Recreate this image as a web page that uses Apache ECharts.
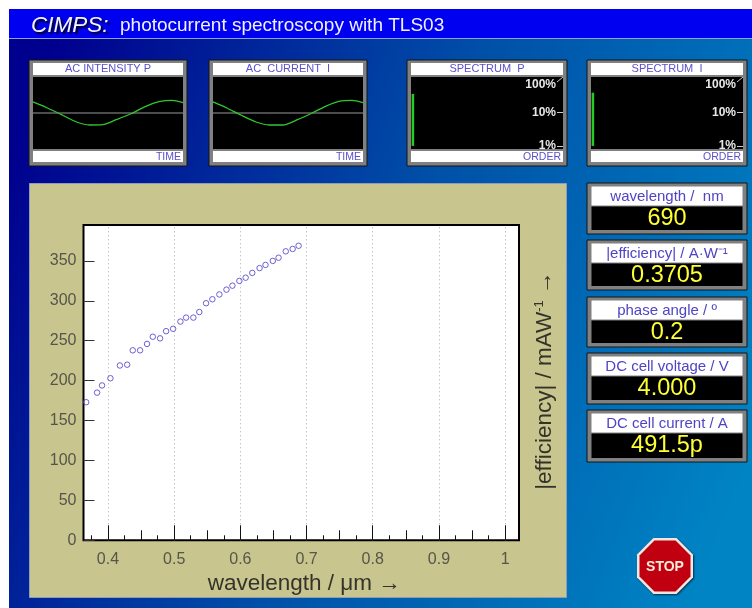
<!DOCTYPE html>
<html><head><meta charset="utf-8">
<style>html,body{margin:0;padding:0;background:#fff}#c{width:752px;height:608px}</style>
<script src="https://cdn.jsdelivr.net/npm/echarts@6/dist/echarts.min.js"></script>
</head><body><div id="c"></div>
<script>
const wavelength=[0.367,0.3835,0.391,0.4037,0.418,0.429,0.4374,0.4485,0.459,0.4677,0.4787,0.4878,0.4984,0.5094,0.518,0.529,0.538,0.5482,0.5577,0.5683,0.579,0.588,0.5985,0.608,0.618,0.629,0.638,0.649,0.6577,0.6686,0.679,0.688];
const efficiency=[173,185,194,203,219,220,238,238,246,255,253,262,265,274,279,279,286,297,302,308,314,319,325,329,335,341,345,350,354,362,365,369];
const majorX=[0.4,0.5,0.6,0.7,0.8,0.9,1];
const midX=[0.45,0.55,0.65,0.75,0.85,0.95];
const minorX=[0.375,0.425,0.475,0.525,0.575,0.625,0.675,0.725,0.775,0.825,0.875,0.925,0.975];
const majorY=[0,50,100,150,200,250,300,350];
const acTimeP=[0,9.2,19,29,37.8,46.6,55.4,65.3,75.2,84,92.7,100];
const acValueP=[.92,.44,-.14,-.75,-1,-.97,-.56,-.06,.56,.94,1.06,.86];
const acTimeI=[0,8.8,18.8,28.7,37.5,46.4,56.3,66.2,75,83.9,92.7,100];
const acValueI=[.92,.44,-.19,-.75,-1,-1,-.56,0,.56,.97,1.06,.86];
const acBaseline=[[0,0],[100,0]];
const orders=Array.from({length:40},(_,i)=>String(i+1));
const spectrumP=[35];
const spectrumI=[38];
const specTicks=[1,10,100];
const readLabels=['wavelength /  nm','|efficiency| / A·W⁻¹','phase angle / º','DC cell voltage / V','DC cell current / A'];
const readValues=['690','0.3705','0.2','4.000','491.5p'];
const panelTitles=['AC INTENSITY P','AC  CURRENT  I','SPECTRUM  P','SPECTRUM  I'];
const panelFoot=['TIME','TIME','ORDER','ORDER'];

const F='"Liberation Sans",Arial,sans-serif';
const W=752,H=608;
const g=[];
const rect=(x,y,w,h,fill,z,extra)=>g.push(Object.assign({type:'rect',shape:{x,y,width:w,height:h},style:{fill},z:z||0,silent:true},extra||{}));
const text=(x,y,t,o)=>g.push({type:'text',x,y,z:5,silent:true,style:Object.assign({text:t,fontFamily:F},o)});

// page
rect(9,9,W-9,H-9,new echarts.graphic.LinearGradient(0,0.25,1,0.75,[{offset:0,color:'#00008e'},{offset:0.5,color:'#0050a8'},{offset:1,color:'#0084c4'}]),0);
rect(9,9,W-9,29,'#0000f0',1);
rect(9,38,W-9,1,'#8f9fe8',1);
text(31,14,'CIMPS:',{fontSize:22.5,fontStyle:'italic',fill:'#f4f4ff',textShadowColor:'#000',textShadowBlur:2,textShadowOffsetX:2,textShadowOffsetY:2});
text(120,16,'photocurrent spectroscopy with TLS03',{fontSize:19,fill:'#f0f0ff'});

// khaki panel
rect(29.5,183.5,537,414,'#c9c58f',1,{style:{fill:'#c9c58f',stroke:'#8f9bb8',lineWidth:1}});

// small panels
const px=[29,209,407,587];
const pw=[158,158,160,160];
const grids=[],xAxes=[],yAxes=[],series=[];
px.forEach((x,i)=>{
  rect(x,60,pw[i],106,'#808080',1,{style:{fill:'#808080',stroke:'#151515',lineWidth:1}});
  rect(x+4,63,pw[i]-8,12,'#fff',2);
  rect(x+4,151,pw[i]-8,11,'#fff',2);
  text(x+pw[i]/2,69,panelTitles[i],{fontSize:11,fill:'#5a50cc',align:'center',verticalAlign:'middle'});
  text(x+pw[i]-6,157,panelFoot[i],{fontSize:10.5,fill:'#5a50cc',align:'right',verticalAlign:'middle'});
  grids.push({left:x+4,top:77,width:pw[i]-8,height:72,show:true,backgroundColor:'#000',borderWidth:0,z:3});
});

// readouts
const ry=[183,240,297,353,410],rh=[51,50,50,51,52];
ry.forEach((y,i)=>{
  rect(587,y,160,rh[i],'#808080',1,{style:{fill:'#808080',stroke:'#151515',lineWidth:1}});
  rect(591.5,y+3.5,151,19,'#fff',2);
  rect(591.5,y+23.5,151,rh[i]-27.5,'#000',2);
  text(667,y+13.5,readLabels[i],{fontSize:15,fill:'#4f44c4',align:'center',verticalAlign:'middle'});
  text(667,y+36,readValues[i],{fontSize:23.5,fill:'#ffff33',align:'center',verticalAlign:'middle'});
});

// spectrum 100% corner ticks
[2,3].forEach(i=>{
  const r=px[i]+pw[i]-4;
  g.push({type:'line',z:6,silent:true,shape:{x1:r-6,y1:82,x2:r,y2:77},style:{stroke:'#ccc',lineWidth:1}});
});

// stop sign
const cx=665,cy=566,r1=28,r2=25.5;
const oct=r=>{const a=r*0.414;return [[cx-a,cy-r],[cx+a,cy-r],[cx+r,cy-a],[cx+r,cy+a],[cx+a,cy+r],[cx-a,cy+r],[cx-r,cy+a],[cx-r,cy-a]];};
g.push({type:'polygon',z:2,silent:true,shape:{points:oct(r1)},style:{fill:'#f2e6e0',shadowColor:'rgba(0,0,0,.6)',shadowBlur:2,shadowOffsetX:1,shadowOffsetY:1}});
g.push({type:'polygon',z:3,silent:true,shape:{points:oct(r2)},style:{fill:'#c00010'}});
text(cx,cy+1,'STOP',{fontSize:14,fontWeight:'bold',fill:'#f6ecd8',align:'center',verticalAlign:'middle'});

// AC traces
[[acTimeP,acValueP],[acTimeI,acValueI]].forEach((d,i)=>{
  xAxes.push({gridIndex:i,type:'value',min:0,max:100,show:false});
  yAxes.push({gridIndex:i,type:'value',min:-3,max:3,show:false});
  series.push({type:'line',xAxisIndex:i,yAxisIndex:i,symbol:'none',z:4,lineStyle:{color:'#9a9a9a',width:1},data:acBaseline});
  series.push({type:'line',xAxisIndex:i,yAxisIndex:i,smooth:0.25,symbol:'none',z:5,lineStyle:{color:'#2fc82f',width:1.3},data:d[0].map((t,k)=>[t,d[1][k]])});
});
// spectra
[spectrumP,spectrumI].forEach((d,j)=>{
  const i=j+2;
  xAxes.push({gridIndex:i,type:'category',data:orders,show:false});
  yAxes.push({gridIndex:i,type:'log',logBase:10,min:0.81,max:111,position:'right',
    axisLine:{show:false},splitLine:{show:false},splitArea:{show:false},
    axisTick:{show:true,inside:true,length:6,customValues:[1,10],lineStyle:{color:'#ccc'}},
    axisLabel:{show:true,inside:true,margin:7,customValues:specTicks,color:'#e8e8e8',fontFamily:F,fontWeight:'bold',fontSize:12,
      formatter:v=>v>=100?'{t|'+Math.round(v)+'%}':Math.round(v)+'%',
      rich:{t:{color:'#e8e8e8',fontFamily:F,fontWeight:'bold',fontSize:12,padding:[13,0,0,0]}}},z:5});
  series.push({type:'bar',xAxisIndex:i,yAxisIndex:i,barWidth:2.5,z:4,itemStyle:{color:'#22cc22'},data:d});
});

// main plot
const mi=4;
grids.push({left:83.5,top:225,right:233,bottom:67.7,show:true,backgroundColor:'#fff',borderColor:'#000',borderWidth:2,z:3});
const xBase={gridIndex:mi,type:'value',min:0.363,max:1.021,position:'bottom',axisLine:{show:false},z:5};
xAxes.push(Object.assign({},xBase,{
  name:'wavelength / μm →',nameLocation:'middle',nameGap:30,nameTextStyle:{fontFamily:F,fontSize:22.5,color:'#33332a',padding:[0,0,0,6]},
  axisTick:{show:true,inside:true,length:15,customValues:majorX,lineStyle:{color:'#111',width:1}},
  axisLabel:{show:true,customValues:majorX,margin:11,color:'#55554a',fontFamily:F,fontSize:16,formatter:v=>String(v)},
  splitLine:{show:false}}));
const mainX=xAxes.length-1;
xAxes.push(Object.assign({},xBase,{axisTick:{show:true,inside:true,length:10,customValues:midX,lineStyle:{color:'#111'}},axisLabel:{show:false},splitLine:{show:false}}));
xAxes.push(Object.assign({},xBase,{axisTick:{show:true,inside:true,length:5,customValues:minorX,lineStyle:{color:'#111'}},axisLabel:{show:false},splitLine:{show:false}}));
yAxes.push({gridIndex:mi,type:'value',min:0,max:395,position:'left',axisLine:{show:false},
  axisTick:{show:true,inside:true,length:11,customValues:majorY,lineStyle:{color:'#333'}},
  axisLabel:{show:true,margin:7,customValues:majorY,color:'#55554a',fontFamily:F,fontSize:16},splitLine:{show:false},z:5});
const mainY=yAxes.length-1;
yAxes.push({gridIndex:mi,type:'value',min:0,max:395,position:'right',axisLine:{show:false},axisTick:{show:false},axisLabel:{show:false},splitLine:{show:false},z:5,
  name:'|efficiency| / mAW{s|-1} →',nameLocation:'middle',nameGap:14,nameRotate:90,
  nameTextStyle:{fontFamily:F,fontSize:22.5,color:'#33332a',padding:[0,0,0,4],rich:{s:{fontFamily:F,fontSize:13,color:'#33332a',verticalAlign:'top',padding:[0,0,9,0]}}}});
// dotted verticals, drawn through the main axes
series.push({type:'scatter',xAxisIndex:mainX,yAxisIndex:mainY,symbol:'none',z:3,silent:true,data:[],
  markLine:{silent:true,symbol:'none',label:{show:false},lineStyle:{color:'#aaa',type:[1,3],width:1},data:majorX.map(v=>({xAxis:v}))}});
series.push({type:'scatter',xAxisIndex:mainX,yAxisIndex:mainY,symbol:'circle',symbolSize:5.5,z:6,silent:true,
  itemStyle:{color:'rgba(255,255,255,0)',borderColor:'#4a3cc8',borderWidth:1},data:wavelength.map((w,k)=>[w,efficiency[k]])});

const chart=echarts.init(document.getElementById('c'),null,{renderer:'canvas',width:W,height:H});
chart.setOption({animation:false,backgroundColor:'#fff',textStyle:{fontFamily:F},grid:grids,xAxis:xAxes,yAxis:yAxes,series,graphic:{elements:g}});
</script></body></html>
